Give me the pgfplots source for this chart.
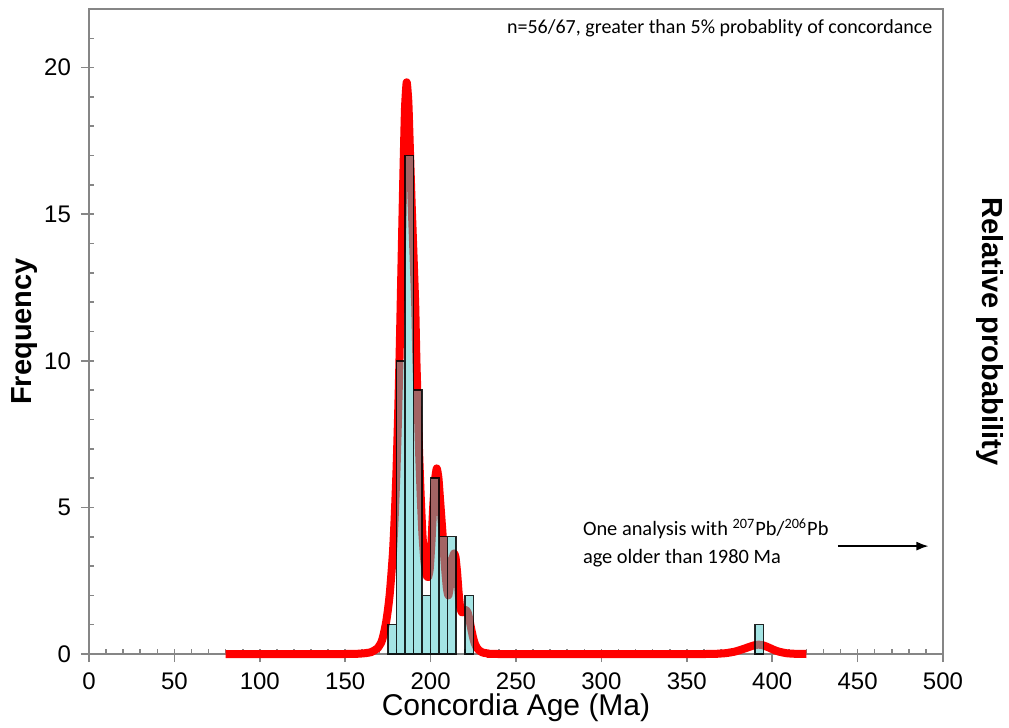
\documentclass[border=0pt]{standalone}
\usepackage{fontspec}
\setmainfont{Liberation Sans}
\newfontfamily\calibri{Carlito}
\usepackage{pgfplots}
\pgfplotsset{compat=1.18}
\usetikzlibrary{arrows.meta}
\definecolor{barfill}{RGB}{73,201,201}
\definecolor{axgray}{RGB}{134,134,134}
\definecolor{pdfred}{RGB}{255,0,0}

\begin{document}
\begin{tikzpicture}
\begin{axis}[
  width=427pt, height=322.5pt, scale only axis,
  xmin=0, xmax=500, ymin=0, ymax=22,
  axis line style={axgray, line width=0.9pt},
  xtick={0,50,...,500}, ytick={0,5,...,20},
  minor xtick={0,10,...,500}, minor ytick={0,1,...,22},
  xtick pos=bottom, ytick pos=left,
  tick align=outside,
  major tick length=4pt, minor tick length=2.5pt,
  every tick/.style={axgray, line width=0.8pt},
  minor x tick style={yshift=2.5pt},
  minor y tick style={xshift=2.5pt},
  tick label style={font=\fontsize{12}{14}\selectfont, black},
  xticklabel style={yshift=-2pt},
  yticklabel style={xshift=-1.5pt},
  /pgf/number format/assume math mode=true,
  clip=false,
]
\coordinate (BL) at (rel axis cs:0,0);
\coordinate (TR) at (rel axis cs:1,1);

% probability density curve
\addplot[pdfred, line width=4pt, line join=round, line cap=butt, smooth, tension=0.3] coordinates {
(80,0)(150,0)(158,0.01)(162,0.03)(165,0.06)(167,0.12)(169,0.2)(171,0.38)(172,0.55)(173,0.8)(174,1.1)(175,1.5)(176,2.0)(177,2.7)(178,3.5)(179,4.7)(180,6.2)(181,8.2)(182,10.6)(183,13.4)(184,16.2)(185,18.6)(186,19.5)(187,18.8)(188,17.0)(189,15.2)(190,13.6)(191,11.9)(191.7,10.0)(192.4,8.6)(193.2,7.0)(194.2,5.4)(195.2,4.1)(196.3,3.2)(197.5,2.7)(198.5,2.62)(199.5,2.9)(200.5,3.8)(201.5,5.0)(202.5,5.9)(203.6,6.33)(204.6,6.0)(205.5,5.3)(206.5,4.5)(207.5,3.7)(208.5,2.9)(209.5,2.25)(210.4,2.0)(211.3,2.3)(212.2,2.9)(213.0,3.3)(213.8,3.43)(214.6,3.3)(215.5,2.8)(216.4,2.1)(217.3,1.6)(218.3,1.42)(219.5,1.45)(220.7,1.5)(221.8,1.4)(222.8,1.15)(223.8,0.85)(224.8,0.58)(225.8,0.37)(227,0.22)(228.5,0.12)(230.5,0.05)(234,0.015)(240,0)(360,0)(368,0.01)(373,0.03)(378,0.08)(382,0.15)(386,0.23)(389,0.29)(392,0.32)(395,0.29)(398,0.22)(401,0.14)(404,0.08)(408,0.03)(412,0.01)(420,0)
};

% histogram (5 Ma bins)
\addplot[ybar, bar width=5, bar shift=0pt, fill=barfill, fill opacity=0.5, draw=black, draw opacity=0.85, line width=0.75pt] coordinates {
(177.5,1)(182.5,10)(187.5,17)(192.5,9)(197.5,2)(202.5,6)(207.5,4)(212.5,4)(222.5,2)(392.5,1)
};

\node[anchor=east, inner sep=0pt, font=\calibri\fontsize{10}{12}\selectfont] at (axis cs:494,21.33) {n=56/67, greater than 5\% probablity of concordance};
\node[anchor=west, align=left, inner sep=0pt, font=\calibri\fontsize{10.2}{14}\selectfont] at (axis cs:289,3.78) {One analysis with \textsuperscript{207}Pb/\textsuperscript{206}Pb\\age older than 1980 Ma};
\draw[-{Latex[length=6pt,width=4.5pt]}, line width=0.8pt] (axis cs:438.5,3.68) -- (axis cs:491.5,3.68);

\node[font=\fontsize{15}{18}\selectfont] at ([yshift=-27pt]rel axis cs:0.5,0) {Concordia Age (Ma)};
\node[rotate=90, font=\bfseries\fontsize{14.5}{17}\selectfont] at ([xshift=-32pt]rel axis cs:0,0.5) {Frequency};
\node[rotate=-90, font=\bfseries\fontsize{14.5}{17}\selectfont] at ([xshift=23.5pt]rel axis cs:1,0.5) {Relative probability};
\end{axis}
\pgfresetboundingbox
\path ([shift={(-44.5pt,-36.5pt)}]BL) rectangle ([shift={(33pt,4.5pt)}]TR);
\end{tikzpicture}
\end{document}
